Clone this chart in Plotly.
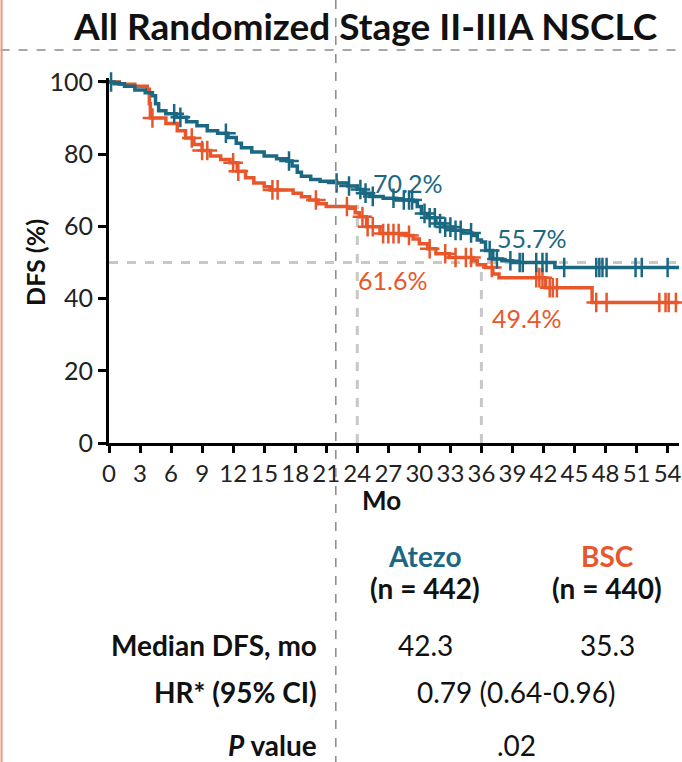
import numpy as np
import plotly.graph_objects as go

# ---- Data ----
atezo_t = [0, 0.5, 1.5, 2.5, 3.5, 4.2, 4.5, 4.8, 5.5, 6.5, 7.5, 8.5, 9.5, 10.5, 11.5, 12.3, 12.8,
           13.8, 15.0, 16.2, 17.2, 17.7, 18.2, 18.6, 19.5, 20.4, 22.0, 23.1, 24.0, 24.6, 25.2, 26.5,
           27.8, 29.4, 29.8, 30.2, 30.8, 31.6, 32.4, 33.2, 34.2, 35.1, 35.6, 36.0, 36.4, 37.1, 38.0,
           39.0, 43.1, 55.1]
atezo_s = [100, 99.5, 98.8, 97.8, 97.0, 96.2, 94.0, 92.0, 91.2, 90.2, 89.0, 87.9, 86.5, 85.8, 84.6,
           83.0, 81.8, 80.6, 79.5, 78.7, 78.1, 76.7, 75.0, 73.9, 73.0, 72.5, 72.0, 71.2, 70.2, 69.2,
           68.3, 67.8, 67.3, 66.9, 65.5, 63.6, 62.4, 60.8, 59.8, 58.9, 58.2, 57.5, 56.2, 55.7, 53.3,
           51.0, 50.5, 50.0, 48.6, 48.6]
atezo_cens = [0.2, 6.3, 6.9, 11.3, 17.4, 22.0, 23.2, 24.3, 24.8, 25.5, 27.5, 28.5, 29.0, 29.3, 30.5,
              31.0, 31.5, 32.0, 32.5, 33.0, 33.5, 34.0, 35.0, 36.8, 37.5, 38.8, 39.7, 40.0, 41.3,
              41.9, 42.3, 44.0, 47.1, 47.4, 47.7, 48.1, 50.9, 51.5, 54.0]

bsc_t = [0, 1.0, 2.5, 3.7, 3.9, 4.0, 5.5, 6.6, 7.4, 8.2, 9.0, 9.8, 10.8, 11.7, 12.4, 13.2, 14.0,
         15.0, 15.6, 17.8, 18.6, 19.4, 20.2, 21.0, 23.1, 23.8, 24.2, 24.9, 26.2, 28.7, 29.4, 30.0,
         30.8, 31.6, 32.9, 35.1, 35.6, 36.4, 37.1, 37.7, 42.2, 46.7, 55.1]
bsc_s = [100, 99.4, 98.8, 98.0, 94.0, 90.0, 88.5, 86.5, 84.5, 82.7, 81.0, 79.5, 78.5, 77.6, 75.3,
         73.5, 72.0, 71.0, 70.1, 69.2, 68.2, 67.3, 66.3, 65.5, 65.0, 63.8, 62.7, 59.9, 58.0, 57.5,
         56.5, 55.2, 53.8, 52.4, 51.4, 50.5, 49.4, 48.6, 46.8, 45.8, 43.0, 38.9, 38.9]
bsc_cens = [4.2, 8.0, 9.0, 9.5, 12.0, 12.5, 15.8, 16.3, 20.0, 23.0, 24.5, 25.0, 25.5, 26.5, 27.0,
            27.5, 28.0, 29.0, 31.0, 32.5, 33.5, 34.5, 35.0, 37.0, 41.3, 41.6, 41.9, 42.6, 42.9,
            43.3, 47.1, 48.1, 53.2, 53.8, 54.1, 54.8]

x_ticks = list(range(0, 55, 3))
y_ticks = [0, 20, 40, 60, 80, 100]

landmarks = [24, 36]
landmark_top = [66, 48]
atezo_rates = ["70.2%", "55.7%"]
bsc_rates = ["61.6%", "49.4%"]

TEAL = "#1A6882"
ORANGE = "#E8572B"
FONT = "Lato"


def step_at(ts, ss, q):
    ts = np.asarray(ts)
    ss = np.asarray(ss)
    idx = np.searchsorted(ts, q, side="right") - 1
    return ss[idx]


fig = go.Figure()

# reference guides (50% line and landmark verticals)
fig.add_trace(go.Scatter(x=[0, 55.1], y=[50, 50], mode="lines",
                         line=dict(color="#C8C8C8", width=3, dash="dash"),
                         hoverinfo="skip", showlegend=False))
for lm, top in zip(landmarks, landmark_top):
    fig.add_trace(go.Scatter(x=[lm, lm], y=[0, top], mode="lines",
                             line=dict(color="#C8C8C8", width=3, dash="dash"),
                             hoverinfo="skip", showlegend=False))

for ts, ss, cens, col, name in [(bsc_t, bsc_s, bsc_cens, ORANGE, "BSC"),
                                (atezo_t, atezo_s, atezo_cens, TEAL, "Atezo")]:
    fig.add_trace(go.Scatter(x=ts, y=ss, mode="lines", line=dict(color=col, width=3.5, shape="hv"),
                             name=name, showlegend=False, cliponaxis=False))
    fig.add_trace(go.Scatter(x=cens, y=step_at(ts, ss, cens), mode="markers",
                             marker=dict(symbol="cross-thin", size=14,
                                         line=dict(color=col, width=2.5)),
                             showlegend=False, cliponaxis=False))

L, R, T, B = 109, 0, 78, 319
W, H = 682, 762
pw, ph = W - L - R, H - T - B


def px(xp):
    return (xp - L) / pw


def py(yp):
    return (H - B - yp) / ph


ann = []
ann.append(dict(text="<b>All Randomized Stage II-IIIA NSCLC</b>", x=px(367), y=py(25),
                xref="paper", yref="paper", xanchor="center", yanchor="middle",
                showarrow=False, font=dict(size=37, color="#111")))
ann.append(dict(text="<b>DFS (%)</b>", x=px(35), y=50, xref="paper", yref="y", textangle=-90,
                xanchor="center", yanchor="middle",
                showarrow=False, font=dict(size=25, color="#111")))
ann.append(dict(text="<b>Mo</b>", x=px(383), y=py(500), xref="paper", yref="paper",
                xanchor="center", yanchor="middle",
                showarrow=False, font=dict(size=26, color="#111")))

# landmark rate labels
lab_pos_a = [(25.3, 72.0), (37.3, 56.7)]
lab_pos_b = [(23.9, 45.1), (36.8, 34.6)]
for txt, (xx, yy) in zip(atezo_rates, lab_pos_a):
    ann.append(dict(text=txt, x=xx, y=yy, xanchor="left", yanchor="middle", showarrow=False,
                    font=dict(size=25, color=TEAL)))
for txt, (xx, yy) in zip(bsc_rates, lab_pos_b):
    ann.append(dict(text=txt, x=xx, y=yy, xanchor="left", yanchor="middle", showarrow=False,
                    font=dict(size=25, color=ORANGE)))

# table
TS = 28
rows = [
    ("<b>Atezo</b>", 427, 556, TEAL, "center"),
    ("<b>(n = 442)</b>", 427, 588, "#111", "center"),
    ("<b>BSC</b>", 610, 556, ORANGE, "center"),
    ("<b>(n = 440)</b>", 610, 588, "#111", "center"),
    ("<b>Median DFS, mo</b>", 320, 645, "#111", "right"),
    ("<b>HR* (95% CI)</b>", 320, 692, "#111", "right"),
    ("<b><i>P</i> value</b>", 320, 745, "#111", "right"),
    ("42.3", 427, 645, "#111", "center"),
    ("35.3", 610, 645, "#111", "center"),
    ("0.79 (0.64-0.96)", 519, 692, "#111", "center"),
    (".02", 519, 745, "#111", "center"),
]
for txt, xx, yy, col, anc in rows:
    ann.append(dict(text=txt, x=px(xx), y=py(yy), xref="paper", yref="paper", xanchor=anc,
                    yanchor="middle", showarrow=False, font=dict(size=TS, color=col)))

shapes = [
    dict(type="line", xref="paper", yref="paper", x0=px(0), x1=px(682), y0=py(50), y1=py(50),
         line=dict(color="#8A8A8A", width=1.5, dash="dash")),
    dict(type="line", xref="paper", yref="paper", x0=px(337), x1=px(337), y0=py(0), y1=py(762),
         line=dict(color="#8A8A8A", width=1.5, dash="dash")),
    dict(type="line", xref="paper", yref="paper", x0=px(1), x1=px(1), y0=py(0), y1=py(762),
         line=dict(color="#F3927A", width=2)),
]

fig.update_layout(
    width=W, height=H, autosize=False,
    margin=dict(l=L, r=R, t=T, b=B),
    paper_bgcolor="white", plot_bgcolor="white",
    font=dict(family=FONT, color="#222"),
    annotations=ann, shapes=shapes, showlegend=False,
)
fig.update_xaxes(range=[0, 55.1], tickvals=x_ticks, ticks="outside", ticklen=7, tickwidth=2.5,
                 tickcolor="black", showline=True, linecolor="black", linewidth=3,
                 showgrid=False, zeroline=False, tickfont=dict(size=24, color="#222"),
                 ticklabeloverflow="allow")
fig.update_yaxes(range=[0, 101.1], tickvals=y_ticks, ticks="outside", ticklen=8, tickwidth=2.5,
                 tickcolor="black", showline=True, linecolor="black", linewidth=3,
                 showgrid=False, zeroline=False, tickfont=dict(size=25, color="#222"))

fig.write_html("out.html", config={"displayModeBar": False},
               post_script="document.body.style.margin='0';")
